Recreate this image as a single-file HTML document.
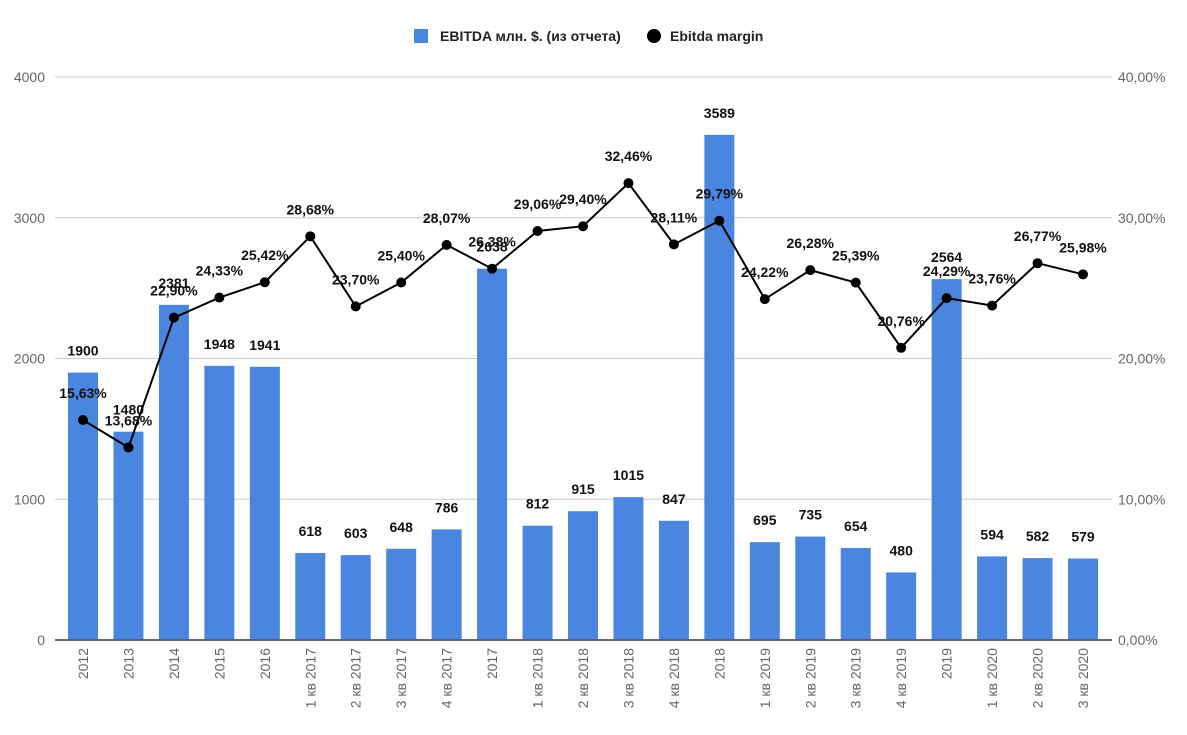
<!DOCTYPE html>
<html><head><meta charset="utf-8"><style>
body{margin:0;background:#fff;}
svg{display:block;font-family:"Liberation Sans",sans-serif;}
</style></head><body>
<svg id="c" width="1187" height="735"></svg>
<script>
const categories=["2012","2013","2014","2015","2016","1 кв 2017","2 кв 2017","3 кв 2017","4 кв 2017","2017","1 кв 2018","2 кв 2018","3 кв 2018","4 кв 2018","2018","1 кв 2019","2 кв 2019","3 кв 2019","4 кв 2019","2019","1 кв 2020","2 кв 2020","3 кв 2020"];
const ebitda=[1900,1480,2381,1948,1941,618,603,648,786,2638,812,915,1015,847,3589,695,735,654,480,2564,594,582,579];
const margin=[15.63,13.68,22.90,24.33,25.42,28.68,23.70,25.40,28.07,26.38,29.06,29.40,32.46,28.11,29.79,24.22,26.28,25.39,20.76,24.29,23.76,26.77,25.98];
const leftTicks=[0,1000,2000,3000,4000];
const rightTicks=["0,00%","10,00%","20,00%","30,00%","40,00%"];
const ns="http://www.w3.org/2000/svg",svg=document.getElementById('c');
const y0=640,yTop=77,xL=55,xR=1112;
const yL=v=>y0-(v/4000)*(y0-yTop);
const yR=v=>y0-(v/40)*(y0-yTop);
const xC=i=>83+i*(1000/22);
function mk(t,a,txt){const e=document.createElementNS(ns,t);for(const k in a)e.setAttribute(k,a[k]);if(txt!=null)e.textContent=txt;svg.appendChild(e);return e;}
leftTicks.forEach((v,i)=>{
 const g=mk('line',{x1:xL,x2:xR,y1:yL(v),y2:yL(v),stroke:i==0?'#555':'#ccc','stroke-width':i==0?1.5:1});
 
 
 const t=mk('text',{x:45,y:yL(v)+5,'text-anchor':'end','font-size':14,fill:'#666'},v);
 
 
 const r=mk('text',{x:1118,y:yL(v)+5,'font-size':14,fill:'#666'},rightTicks[i]);
 
 
});
ebitda.forEach((v,i)=>{
 const b=mk('rect',{x:xC(i)-15,y:yL(v),width:30,height:y0-yL(v),fill:'#4a86e0'});
 
 
 const t=mk('text',{x:xC(i),y:yL(v)-17,'text-anchor':'middle','font-size':14,'font-weight':'bold',fill:'#111'},v);
 
 
 const l=mk('text',{transform:`translate(${xC(i)+5},648) rotate(-90)`,'text-anchor':'end','font-size':14,fill:'#666'},categories[i]);
 
 
});
const base=mk('line',{x1:xL,x2:xR,y1:y0,y2:y0,stroke:'#555','stroke-width':1.5});


const pl=mk('polyline',{points:margin.map((v,i)=>xC(i)+','+yR(v)).join(' '),fill:'none',stroke:'#000','stroke-width':2});


margin.forEach((v,i)=>{
 const c=mk('circle',{cx:xC(i),cy:yR(v),r:5,fill:'#000'});
 
 
 const t=mk('text',{x:xC(i),y:yR(v)-22,'text-anchor':'middle','font-size':14,'font-weight':'bold',fill:'#111'},v.toFixed(2).replace('.',',')+'%');
 
 
});
const ls=mk('rect',{x:414,y:29,width:14,height:14,fill:'#4a86e0'});


const lt=mk('text',{x:440,y:41,'font-size':14,'font-weight':'bold',fill:'#222'},'EBITDA млн. $. (из отчета)');


const lc=mk('circle',{cx:654,cy:36,r:7,fill:'#000'});


const lt2=mk('text',{x:670,y:41,'font-size':14,'font-weight':'bold',fill:'#222'},'Ebitda margin');


</script>
</body></html>
